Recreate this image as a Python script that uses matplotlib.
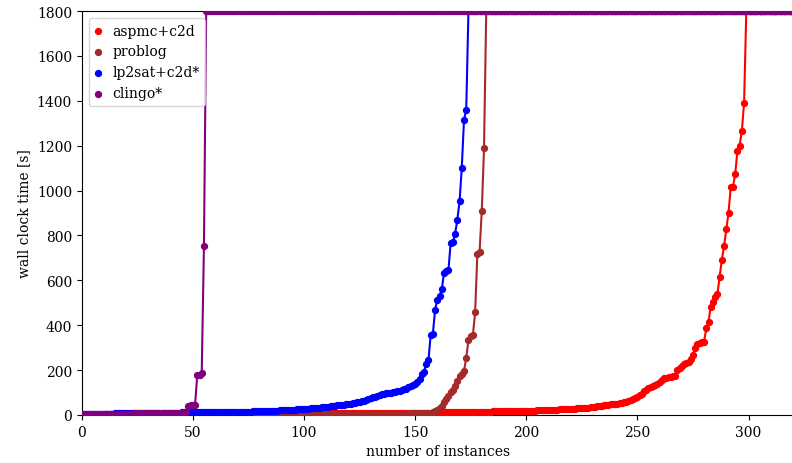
import matplotlib
matplotlib.use("Agg")
import matplotlib.pyplot as plt
import numpy as np

plt.rcParams['font.family'] = ['DejaVu Serif']

TIMEOUT = 1800
N_INSTANCES = 321

# solved runtimes (s), sorted; unsolved instances are padded with TIMEOUT
aspmc = [
    # 0-49
    1.4, 1.5, 1.6, 1.7, 1.8, 1.9, 2.0, 2.0, 2.1, 2.2,
    2.2, 2.3, 2.3, 2.4, 2.5, 2.5, 2.6, 2.6, 2.7, 2.8,
    2.8, 2.9, 2.9, 3.0, 3.0, 3.1, 3.2, 3.2, 3.3, 3.3,
    3.4, 3.4, 3.5, 3.5, 3.6, 3.7, 3.7, 3.8, 3.8, 3.9,
    3.9, 4.0, 4.0, 4.1, 4.1, 4.2, 4.2, 4.3, 4.3, 4.4,
    # 50-99
    4.4, 4.5, 4.5, 4.6, 4.6, 4.7, 4.7, 4.8, 4.8, 4.9,
    4.9, 5.0, 5.0, 5.1, 5.1, 5.2, 5.3, 5.3, 5.4, 5.4,
    5.5, 5.5, 5.6, 5.6, 5.7, 5.7, 5.8, 5.9, 5.9, 6.0,
    6.0, 6.1, 6.1, 6.2, 6.2, 6.3, 6.3, 6.4, 6.4, 6.5,
    6.5, 6.6, 6.6, 6.7, 6.8, 6.8, 6.9, 6.9, 7.0, 7.0,
    # 100-149
    7.1, 7.1, 7.2, 7.2, 7.3, 7.3, 7.4, 7.4, 7.5, 7.5,
    7.6, 7.6, 7.7, 7.7, 7.8, 7.8, 7.9, 7.9, 8.0, 8.0,
    8.1, 8.1, 8.2, 8.2, 8.3, 8.3, 8.4, 8.4, 8.5, 8.5,
    8.6, 8.6, 8.7, 8.7, 8.8, 8.8, 8.9, 8.9, 9.0, 9.0,
    9.1, 9.1, 9.2, 9.2, 9.3, 9.3, 9.4, 9.4, 9.5, 9.5,
    # 150-187
    9.5, 9.6, 9.8, 10.0, 10.1, 10.3, 10.5, 10.6, 10.8, 11.0,
    11.1, 11.3, 11.5, 11.7, 11.8, 12.0, 12.2, 12.3, 12.5, 12.7,
    12.8, 13.0, 13.2, 13.4, 13.5, 13.7, 13.9, 14.0, 14.2, 14.4,
    14.6, 14.8, 15.0, 15.2, 15.4, 15.6, 15.8, 16.0,
    # 188-202
    16.2, 16.4, 16.6, 16.8, 17.0, 17.2, 17.4, 17.6, 17.8, 18.0,
    18.2, 18.4, 18.6, 18.8, 19.0,
    # 203-217
    19.3, 19.7, 20.1, 20.5, 21.0, 21.4, 21.9, 22.3, 22.8, 23.3,
    23.8, 24.3, 24.8, 25.2, 25.6,
    # 218-298
    26, 27, 27, 28, 28, 29, 30, 30, 31, 32,
    33, 34, 36, 37, 38, 40, 42, 43, 45, 46,
    47, 49, 50, 51, 53, 55, 57, 60, 62, 66,
    70, 74, 80, 89, 95, 108, 112, 119, 125, 131,
    135, 140, 146, 155, 163, 165, 168, 170, 172, 175,
    202, 210, 217, 227, 232, 238, 250, 267, 299, 316,
    320, 325, 327, 386, 416, 483, 502, 524, 539, 616,
    692, 752, 828, 900, 1015, 1016, 1073, 1175, 1200, 1267,
    1389,
]

problog = [
    1.0, 1.0, 1.1, 1.1, 1.2, 1.2, 1.3, 1.3, 1.4, 1.4,
    1.5, 1.5, 1.6, 1.6, 1.7, 1.7, 1.8, 1.8, 1.9, 1.9,
    2.0, 2.0, 2.0, 2.1, 2.1, 2.1, 2.2, 2.2, 2.2, 2.3,
    2.3, 2.3, 2.4, 2.4, 2.4, 2.5, 2.5, 2.5, 2.6, 2.6,
    2.6, 2.7, 2.7, 2.7, 2.8, 2.8, 2.8, 2.9, 2.9, 2.9,
    3.0, 3.0, 3.0, 3.1, 3.1, 3.1, 3.2, 3.2, 3.2, 3.3,
    3.3, 3.3, 3.4, 3.4, 3.4, 3.5, 3.5, 3.5, 3.6, 3.6,
    3.6, 3.7, 3.7, 3.7, 3.8, 3.8, 3.8, 3.9, 3.9, 3.9,
    4.0, 4.0, 4.0, 4.1, 4.1, 4.1, 4.2, 4.2, 4.2, 4.3,
    4.3, 4.3, 4.4, 4.4, 4.4, 4.5, 4.5, 4.5, 4.6, 4.6,
    4.6, 4.7, 4.7, 4.7, 4.8, 4.8, 4.8, 4.9, 4.9, 4.9,
    5.0, 5.0, 5.0, 5.1, 5.1, 5.1, 5.2, 5.2, 5.2, 5.3,
    5.3, 5.3, 5.4, 5.4, 5.4, 5.5, 5.5, 5.5, 5.6, 5.6,
    5.6, 5.7, 5.7, 5.8, 5.8, 5.9, 5.9, 6.0, 6.0, 6.1,
    6.1, 6.2, 6.2, 6.3, 6.3, 6.4, 6.5, 6.6, 6.7, 6.8,
    6.9, 7.0, 7.2, 7.4, 7.6,
    # 155-181
    8, 9, 11, 14, 18, 24, 30, 42, 56, 71,
    86, 101, 110, 131, 150, 175, 184, 196, 255, 334,
    351, 356, 458, 716, 728, 910, 1188,
]

lp2sat = [
    # 0-48
    4.2, 4.4, 4.6, 4.8, 5.0, 5.1, 5.3, 5.5, 5.6, 5.8,
    5.9, 6.1, 6.2, 6.4, 6.5, 6.7, 6.8, 7.0, 7.1, 7.3,
    7.4, 7.6, 7.7, 7.8, 8.0, 8.1, 8.3, 8.4, 8.6, 8.7,
    8.9, 9.0, 9.2, 9.3, 9.5, 9.6, 9.8, 9.9, 10.1, 10.2,
    10.4, 10.5, 10.7, 10.8, 11.0, 11.2, 11.4, 11.6, 11.8,
    # 49-75
    12.0, 12.1, 12.2, 12.3, 12.4, 12.5, 12.6, 12.7, 12.8, 12.9,
    13.0, 13.1, 13.2, 13.3, 13.4, 13.5, 13.6, 13.7, 13.8, 13.9,
    14.0, 14.2, 14.4, 14.5, 14.7, 14.8, 15.0,
    # 76-99
    15.3, 15.6, 16.0, 16.4, 16.8, 17.2, 17.6, 18.0, 18.4, 18.8,
    19.2, 19.6, 20.0, 20.5, 21.0, 21.5, 22.0, 22.6, 23.2, 23.8,
    24.4, 25.0, 25.7, 26.4,
    # 100-112
    27.0, 27.8, 28.6, 29.5, 30.4, 31.3, 32.2, 33.2, 34.2, 35.3,
    36.5, 37.8, 39.3,
    # 113-173
    41, 42, 43, 44, 45, 46, 47, 48, 50, 52,
    54, 56, 58, 61, 64, 67, 70, 74, 78, 82,
    86, 89, 92, 94, 96, 98, 100, 101, 103, 105,
    108, 111, 114, 118, 123, 128, 134, 138, 146, 160,
    183, 193, 229, 245, 355, 363, 469, 514, 532, 560,
    633, 643, 646, 768, 772, 808, 870, 952, 1102, 1316,
    1359,
]

clingo = [
    3.8, 4.0, 4.1, 4.3, 4.4, 4.6, 4.7, 4.8, 5.0, 5.1,
    5.2, 5.3, 5.5, 5.6, 5.7, 5.8, 5.9, 6.0, 6.2, 6.3,
    6.4, 6.5, 6.6, 6.8, 6.9, 7.0, 7.1, 7.2, 7.4, 7.5,
    7.6, 7.8, 7.9, 8.0, 8.2, 8.3, 8.5, 8.6, 8.8, 8.9,
    9.1, 9.3, 9.5, 9.7, 10.0, 10.4, 11.0,
    15, 42, 43, 44, 46, 178, 180, 185, 755,
]

solvers = ['aspmc+c2d', 'problog', 'lp2sat+c2d*', 'clingo*']
times = [aspmc, problog, lp2sat, clingo]
colors = ['red', 'brown', 'blue', 'purple']

fig = plt.figure(figsize=(7.92, 4.64), dpi=100)
ax = fig.add_axes([81.7 / 792, 48 / 464, 713.5 / 792, 404 / 464])

for name, t, c in zip(solvers, times, colors):
    y = np.array(t + [TIMEOUT] * (N_INSTANCES - len(t)), dtype=float)
    x = np.arange(len(y))
    ax.plot(x, y, color=c, lw=1.5)
    ax.scatter(x, y, color=c, s=18, label=name, zorder=3)

ax.set_xlim(0, 321)
ax.set_ylim(0, 1800)
ax.set_xticks([0, 50, 100, 150, 200, 250, 300])
ax.set_yticks(np.arange(0, 1801, 200))
ax.set_xlabel('number of instances')
ax.set_ylabel('wall clock time [s]')
ax.legend(loc='upper left', handlelength=0.5, handletextpad=0.8)

fig.savefig('out.png', dpi=100)
